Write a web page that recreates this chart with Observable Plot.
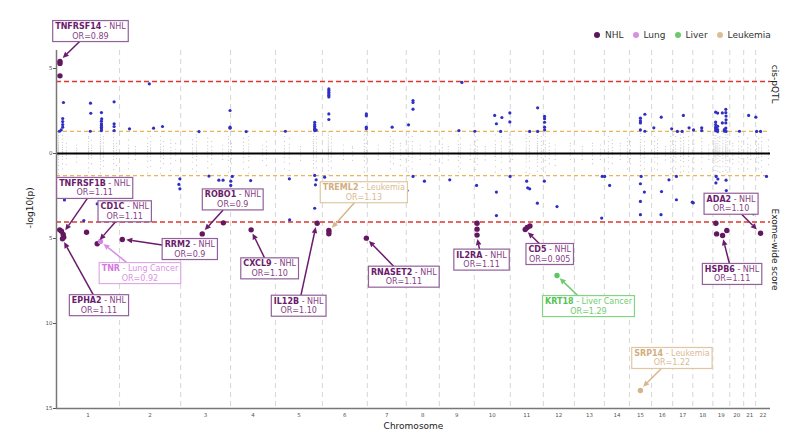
<!DOCTYPE html>
<html>
<head>
<meta charset="utf-8">
<script src="https://cdn.jsdelivr.net/npm/d3@7"></script>
<script src="https://cdn.jsdelivr.net/npm/@observablehq/plot@0.6"></script>
<style>
  html, body { margin: 0; padding: 0; background: #fff; }
  #figure { position: relative; width: 800px; height: 437px; font-family: "DejaVu Sans", Verdana, sans-serif; }
  #figure svg { display: block; }
  .legend { position: absolute; top: 30px; left: 594px; display: flex; align-items: center; font-size: 9px; color: #333; white-space: nowrap; line-height: 10px; }
  .legend .item { display: inline-flex; align-items: center; margin-right: 9px; }
  .legend i { display: inline-block; width: 6px; height: 6px; border-radius: 50%; margin-right: 5px; }
</style>
</head>
<body>
<div id="figure"></div>
<script>
// ---- Genome layout -------------------------------------------------------
const chromosomes = [1, 2, 3, 4, 5, 6, 7, 8, 9, 10, 11, 12, 13, 14, 15, 16, 17, 18, 19, 20, 21, 22];
// span covered by the tested genes on each chromosome (Mb)
const chromSpanMb = [254, 246, 201, 181, 189, 181, 157, 133, 141, 145, 133, 125, 121, 101, 89, 85, 81, 81, 68, 56, 48, 60];

// ---- Cancer types --------------------------------------------------------
const cancers = ["NHL", "Lung", "Liver", "Leukemia"];
const cancerNames = ["NHL", "Lung Cancer", "Liver Cancer", "Leukemia"];

// ---- Significance thresholds (-log10 p) ----------------------------------
const pqtlThreshold = 4.24;
const exomeThreshold = 4.03;
const nominalThreshold = 1.3;

// ---- cis-pQTL hits above nominal significance: [chromosome, position (Mb), -log10 p]
const pqtlHits = [
  [1, 12, 1.31], [1, 19, 1.39], [1, 25, 1.55], [1, 25, 1.7], [1, 25, 1.88], [1, 25, 2.06], [1, 28, 3.0],
  [1, 136, 1.31], [1, 137, 2.96], [1, 138, 2.37],
  [1, 181, 1.35], [1, 181, 1.45], [1, 181, 1.55], [1, 181, 1.65], [1, 181, 1.75], [1, 181, 1.9], [1, 182, 2.04], [1, 181, 2.41],
  [1, 232, 1.35], [1, 232, 1.59], [1, 232, 1.75], [1, 232, 3.04],
  [2, 40, 1.45], [2, 120, 4.1], [2, 137, 1.49], [2, 173, 1.59],
  [3, 74, 1.29], [3, 199, 1.49], [3, 199, 1.55], [3, 199, 2.53],
  [4, 63, 1.29],
  [5, 40, 1.31], [5, 158, 1.35], [5, 158, 1.42], [5, 158, 1.5], [5, 158, 1.6], [5, 158, 1.7], [5, 158, 1.84], [5, 164, 1.38],
  [6, 26, 3.33], [6, 26, 3.42], [6, 26, 3.5], [6, 26, 3.6], [6, 26, 3.7], [6, 26, 3.8], [6, 26, 2.33], [6, 26, 2.0],
  [6, 177, 2.33], [6, 177, 2.22], [6, 177, 1.55], [6, 177, 1.45],
  [7, 100, 1.55],
  [8, 9, 1.69], [8, 27, 3.12], [8, 27, 3.0], [8, 27, 2.61],
  [9, 79, 1.35], [9, 91, 4.18],
  [10, 2, 1.31], [10, 82, 2.24], [10, 89, 1.75], [10, 106, 1.3], [10, 111, 2.12], [10, 143, 2.39], [10, 143, 1.86],
  [11, 78, 1.3], [11, 110, 2.69], [11, 110, 1.3],
  [12, 5, 2.18], [12, 5, 2.05], [12, 5, 1.84], [12, 5, 1.55], [12, 5, 1.39],
  [15, 44, 2.08], [15, 44, 1.92], [15, 44, 1.8], [15, 44, 1.39], [15, 62, 2.31], [15, 62, 1.31],
  [16, 9, 1.51], [16, 39, 2.14], [16, 81, 1.45],
  [17, 19, 1.3], [17, 38, 1.3], [17, 43, 2.24], [17, 66, 1.51],
  [18, 3, 1.39], [18, 36, 1.51], [18, 36, 1.35],
  [19, 11, 2.43], [19, 11, 1.85], [19, 11, 1.7], [19, 11, 1.55], [19, 11, 1.45], [19, 11, 1.35],
  [19, 19, 2.38], [19, 19, 1.6], [19, 19, 1.4], [19, 19, 1.3],
  [19, 38, 2.39], [19, 38, 1.8], [19, 46, 1.4], [19, 46, 1.32],
  [19, 52, 2.6], [19, 52, 2.4], [19, 53, 2.2], [19, 53, 1.98], [19, 52, 1.8], [19, 52, 1.5], [19, 51, 1.35], [19, 53, 1.3],
  [20, 39, 1.31], [21, 20, 2.24], [22, 1, 2.14], [22, 4, 1.3], [22, 20, 1.3]
];

// ---- Exome-wide scores above nominal significance: [chromosome, position (Mb), -log10 p]
const exomeHits = [
  [1, 32, 2.73], [1, 110, 3.94], [1, 164, 2.96],
  [2, 239, 1.82], [2, 243, 2.08], [2, 243, 1.49],
  [3, 114, 1.33], [3, 154, 1.57], [3, 171, 1.57],
  [4, 7, 1.35], [4, 1, 1.63], [4, 1, 1.88], [4, 81, 1.59],
  [5, 56, 1.49], [5, 57, 3.9], [5, 158, 1.29], [5, 164, 1.55], [5, 161, 1.84], [5, 158, 3.22],
  [6, 9, 1.39],
  [8, 3, 2.18], [8, 27, 1.35], [8, 73, 1.63],
  [9, 42, 1.55],
  [10, 9, 1.88], [10, 89, 2.27], [10, 89, 3.65], [10, 144, 1.35],
  [11, 66, 1.63], [11, 70, 2.02], [11, 78, 2.08], [11, 109, 2.92],
  [12, 4, 1.63], [12, 55, 3.12],
  [13, 112, 1.35], [13, 110, 3.8], [14, 1, 1.35], [14, 21, 1.88],
  [15, 47, 1.35], [15, 44, 1.78], [15, 60, 2.27], [15, 44, 2.82], [15, 44, 3.6],
  [16, 38, 3.6], [16, 40, 2.24], [16, 70, 1.55],
  [17, 15, 1.35], [17, 15, 2.72], [17, 79, 2.86], [18, 2, 2.9],
  [19, 13, 1.35], [19, 20, 1.5], [19, 12, 1.73], [19, 53, 1.57], [19, 54, 2.18],
  [21, 39, 3.55], [22, 44, 1.35]
];

// ---- Gene–cancer associations passing the significance thresholds
// [gene, cancer, chromosome, position (Mb), -log10 p]
const pqtlSignificant = [
  ["TNFRSF14", "NHL", 1, 14, 5.41], ["TNFRSF14", "NHL", 1, 14, 5.3], ["TNFRSF14", "NHL", 1, 14, 4.57]
];
const exomeSignificant = [
  ["TNFRSF1B", "NHL", 1, 13, 4.49], ["TNFRSF1B", "NHL", 1, 20, 4.57], ["TNFRSF1B", "NHL", 1, 27, 4.76],
  ["EPHA2", "NHL", 1, 29, 4.92], ["EPHA2", "NHL", 1, 24, 5.01],
  ["", "NHL", 1, 121, 4.63],
  ["CD1C", "NHL", 1, 164, 5.31],
  ["TNR", "Lung", 1, 177, 5.18],
  ["RRM2", "NHL", 2, 11, 5.06],
  ["ROBO1", "NHL", 3, 87, 4.73],
  ["", "NHL", 3, 172, 4.08],
  ["CXCL9", "NHL", 4, 83, 4.49],
  ["IL12B", "NHL", 5, 168, 4.1],
  ["TREML2", "Leukemia", 6, 28, 4.6],
  ["", "NHL", 6, 26, 4.53], ["", "NHL", 6, 26, 4.72],
  ["RNASET2", "NHL", 6, 177, 4.98],
  ["IL2RA", "NHL", 10, 11, 4.1], ["IL2RA", "NHL", 10, 11, 4.45], ["IL2RA", "NHL", 10, 11, 4.8],
  ["CD5", "NHL", 11, 60, 4.47], ["CD5", "NHL", 11, 68, 4.35], ["CD5", "NHL", 11, 79, 4.26],
  ["KRT18", "Liver", 12, 55, 7.18],
  ["SRP14", "Leukemia", 15, 44, 13.94],
  ["HSPB6", "NHL", 19, 12, 4.1], ["HSPB6", "NHL", 19, 15, 4.73], ["HSPB6", "NHL", 19, 39, 4.82], ["HSPB6", "NHL", 19, 56, 4.53],
  ["ADA2", "NHL", 22, 20, 4.69]
];

// ---- Odds ratios of the annotated genes
const oddsRatios = [
  ["TNFRSF14", "0.89"], ["TNFRSF1B", "1.11"], ["CD1C", "1.11"], ["RRM2", "0.9"], ["TNR", "0.92"],
  ["EPHA2", "1.11"], ["ROBO1", "0.9"], ["CXCL9", "1.10"], ["IL12B", "1.10"], ["TREML2", "1.13"],
  ["RNASET2", "1.11"], ["IL2RA", "1.11"], ["CD5", "0.905"], ["KRT18", "1.29"], ["ADA2", "1.10"],
  ["HSPB6", "1.11"], ["SRP14", "1.22"]
];

// ---- Sub-threshold genes: chromosome position (Mb) | cis-pQTL -log10 p values | exome-wide -log10 p values
const backgroundLoci = `
1 8 | .03 .09 .15 .22 .3 .38 .47 .56 .66 .78 .9 1.05 1.22 | .04 .12 .22 .35 .5 .7 .95 1.18
1 24 | .05 .13 .24 .36 .5 .66 .85 1.08 | .06 .18 .33 .6 .9
1 40 | .08 .2 .38 .6 | .1 .3 .65
1 81 | .06 .17 .3 .5 | .08 .22 .5
1 129 | .04 .11 .2 .3 .42 .56 .72 .9 1.0 | .05 .15 .3 .55 .85 1.1
1 141 | .07 .18 .32 .5 .78 | .1 .25 .6
1 177 | .02 .07 .13 .19 .26 .33 .41 .5 .6 .7 .82 .95 1.1 1.27 | .04 .1 .2 .32 .47 .66 .9 1.15
1 189 | .05 .15 .28 .44 .62 .85 1.0 | .07 .2 .42 .75
1 230 | .03 .1 .19 .3 .43 .58 .75 .95 1.17 | .05 .16 .34 .6 .95
1 242 | .06 .2 .42 .6 | .08 .3 .7
2 36 | .05 .15 .3 .5 .8 | .07 .25 .55 .9
2 64 | .08 .22 .4 | .1 .35
2 113 | .04 .12 .25 .4 .6 .9 | .06 .2 .45 .8 1.15
2 125 | .03 .1 .2 .33 .5 .7 1.0 | .05 .18 .4 .75
2 165 | .04 .12 .24 .38 .55 .78 1.0 | .06 .2 .45 .85 1.2
2 177 | .06 .2 .4 .7 | .1 .3 .6
2 206 | .05 .17 .35 .6 .8 | .08 .28 .6 1.0
2 226 | .07 .25 .6 | .1 .4
3 48 | .05 .16 .32 .55 .8 | .07 .24 .5 .9
3 64 | .03 .1 .2 .33 .5 .72 .95 1.1 | .05 .17 .38 .7 1.05
3 109 | .04 .14 .28 .46 .68 .9 | .06 .2 .46 .85
3 125 | .06 .2 .4 .7 | .1 .3 .65
3 169 | .08 .25 .5 | .1 .35
3 193 | .04 .12 .25 .42 .62 .85 1.0 | .05 .18 .4 .78 1.1
4 4 | .06 .2 .4 .6 | .08 .3 .6
4 52 | .04 .13 .27 .45 .65 .9 | .06 .22 .5 .9
4 73 | .03 .1 .22 .38 .56 .78 1.0 | .05 .18 .42 .8 1.15
4 129 | .08 .25 .5 | .1 .4
4 145 | .05 .18 .4 .7 | .08 .3 .7
5 36 | .04 .13 .27 .45 .7 1.0 | .06 .22 .5 .9
5 56 | .05 .16 .33 .55 .9 | .07 .25 .6 1.0
5 101 | .1 .25 .4 | .12 .4
5 153 | .02 .07 .13 .2 .28 .37 .47 .58 .7 .84 1.0 1.2 | .04 .12 .24 .4 .6 .85 1.15
5 165 | .04 .13 .26 .42 .62 .85 1.0 | .06 .2 .45 .85
6 24 | .02 .06 .11 .17 .24 .32 .41 .51 .62 .75 .9 1.08 1.27 | .03 .1 .2 .33 .5 .72 1.0 1.25
6 36 | .04 .13 .26 .42 .62 .85 1.0 | .06 .2 .45 .85
6 85 | .07 .22 .5 | .1 .35
6 121 | .1 .3 .4 | .12 .4
6 169 | .04 .12 .24 .4 .58 .8 1.1 | .05 .18 .42 .8 1.1
6 177 | .05 .16 .35 .6 .9 | .07 .25 .6
7 44 | .08 .25 .5 | .1 .35
7 93 | .04 .13 .27 .45 .68 1.0 | .06 .2 .48 .9
7 105 | .05 .17 .35 .58 .8 | .07 .25 .6
7 133 | .07 .22 .45 .6 | .1 .35 .7
8 8 | .03 .1 .2 .33 .5 .7 .95 1.2 | .05 .17 .4 .75 1.1
8 24 | .04 .13 .27 .45 .7 1.0 | .06 .22 .5 .9
8 56 | .08 .25 .5 | .1 .35
8 97 | .06 .2 .42 .7 | .08 .3 .65
8 117 | .1 .28 .4 | .12 .4
9 12 | .05 .16 .33 .55 .9 | .07 .25 .55
9 36 | .1 .25 .4 | .12 .38
9 77 | .03 .1 .21 .35 .52 .75 1.1 | .05 .17 .4 .78 1.1
9 85 | .05 .16 .32 .55 .9 | .07 .24 .55 .9
9 125 | .08 .25 .5 | .1 .35
10 4 | .04 .13 .27 .45 .7 1.0 | .06 .22 .5 .95
10 12 | .06 .2 .4 .8 | .08 .3 .65
10 44 | .1 .25 .4 | .12 .38
10 85 | .03 .1 .21 .35 .52 .75 1.1 | .05 .17 .4 .78 1.1
10 109 | .04 .13 .27 .45 .7 1.0 | .06 .22 .5 .95
10 141 | .04 .12 .25 .42 .65 .9 1.1 | .06 .2 .45 .85
11 8 | .08 .25 .5 | .1 .35
11 64 | .03 .1 .2 .33 .5 .7 .9 1.1 | .04 .14 .3 .5 .78 1.1
11 77 | .04 .13 .27 .45 .7 1.0 | .06 .2 .45 .85 1.2
11 109 | .02 .06 .12 .19 .27 .36 .46 .58 .72 .88 1.05 1.25 | .03 .1 .2 .34 .52 .75 1.05
11 125 | .04 .14 .28 .48 .72 1.0 | .06 .22 .5 .9
12 8 | .03 .1 .21 .35 .52 .75 1.0 1.2 | .05 .17 .4 .78 1.1
12 24 | .06 .2 .4 .6 | .08 .3 .6
12 48 | .08 .25 .5 | .1 .35 .7
12 109 | .07 .22 .45 .6 | .1 .35
13 32 | .1 .25 .4 | .12 .35
13 73 | .07 .22 .45 .6 | .1 .35 .6
13 105 | .08 .25 .5 | .1 .35
14 16 | .04 .13 .27 .45 .7 1.0 | .06 .22 .5 .9
14 32 | .05 .17 .35 .58 .8 | .07 .25 .6
14 64 | .07 .22 .45 .6 | .1 .35
14 93 | .04 .14 .28 .48 .7 .9 | .06 .22 .5 .9
15 4 | .06 .2 .45 .7 | .08 .3 .6
15 44 | .03 .09 .17 .26 .37 .5 .65 .82 1.0 1.2 | .04 .13 .27 .45 .7 1.0
15 60 | .04 .13 .27 .45 .7 1.0 | .06 .22 .5 .9
16 12 | .04 .13 .27 .45 .7 1.0 | .06 .22 .5 .9
16 24 | .05 .17 .35 .58 .8 | .07 .25 .6 .95
16 56 | .1 .25 .4 | .12 .38
16 77 | .04 .13 .27 .45 .7 1.0 | .06 .22 .5 .9 1.2
17 4 | .03 .1 .21 .35 .52 .75 1.1 | .05 .17 .4 .78 1.1
17 12 | .04 .13 .27 .45 .7 1.0 | .06 .22 .5 .9
17 32 | .03 .1 .2 .33 .5 .7 .9 1.1 | .05 .17 .4 .78 1.1
17 44 | .02 .07 .14 .22 .32 .44 .58 .75 .95 1.2 | .04 .13 .28 .48 .75 1.05
17 64 | .03 .1 .21 .35 .52 .75 1.0 | .05 .17 .4 .78 1.1
18 4 | .05 .16 .33 .55 .8 | .07 .24 .55 .9
18 36 | .04 .13 .27 .45 .7 .9 | .06 .22 .5 .9
18 64 | .08 .25 .5 | .1 .35
19 4 | .02 .06 .11 .17 .24 .32 .41 .51 .62 .75 .9 1.08 1.27 | .03 .09 .17 .27 .4 .56 .75 .98 1.22
19 12 | .02 .06 .12 .19 .27 .36 .46 .58 .72 .88 1.05 1.25 | .03 .1 .2 .33 .5 .72 1.0 1.25
19 20 | .02 .07 .14 .22 .32 .44 .58 .75 .95 1.18 | .04 .13 .28 .48 .75 1.05
19 28 | .03 .1 .2 .33 .5 .7 .9 1.0 | .05 .17 .4 .78 1.1
19 40 | .02 .07 .14 .22 .32 .44 .58 .75 .95 1.2 | .04 .13 .28 .48 .75 1.05
19 52 | .02 .05 .09 .14 .2 .27 .35 .44 .54 .65 .78 .93 1.1 1.28 | .03 .09 .17 .27 .4 .56 .75 .98 1.22
19 60 | .03 .1 .2 .33 .5 .7 .9 1.1 | .05 .17 .4 .78 1.1
20 12 | .07 .22 .45 .6 | .1 .35 .6
20 36 | .04 .13 .27 .45 .7 1.0 | .06 .22 .5 .9
20 48 | .06 .2 .42 .7 | .08 .3 .65
21 16 | .05 .16 .33 .55 .9 | .07 .24 .55 .9
21 28 | .08 .25 .5 | .1 .35
22 4 | .04 .13 .27 .45 .7 1.0 | .06 .22 .5 .9
22 12 | .05 .16 .33 .55 .9 | .07 .24 .55 .9
22 24 | .03 .1 .2 .33 .5 .7 .95 1.2 | .05 .17 .4 .78 1.1
22 52 | .06 .2 .42 .8 | .08 .3 .65
`;

// ---- Styling and label layout ---------------------------------------------
const FONT = '"DejaVu Sans", Verdana, sans-serif';
const pointColors = ["#62175f", "#d184df", "#5ec65e", "#d6b487"];
const legendColors = ["#5a165a", "#d890e2", "#6cc86c", "#dbbd96"];
const labelStyle = {
  NHL:      {gene: "#6b1b6b", text: "#854185", box: "#92609a", arrow: "#6b1b6b"},
  Lung:     {gene: "#d27ade", text: "#da93e4", box: "#dfa9e8", arrow: "#d98ce3"},
  Liver:    {gene: "#55c355", text: "#6fcd6f", box: "#82d582", arrow: "#6ccb6c"},
  Leukemia: {gene: "#d2ae80", text: "#dabb93", box: "#dfc7a5", arrow: "#d6b68a"}
};
// offset (px) of each label box centre from the gene's lead point
const labelOffset = {
  TNFRSF14: [31, -30], TNFRSF1B: [32, -46], CD1C: [28, -32], RRM2: [68, 10], TNR: [40, 32],
  EPHA2: [37, 67], ROBO1: [31, -34], CXCL9: [19, 39], IL12B: [-18, 83], TREML2: [35, -39],
  RNASET2: [38, 39], IL2RA: [5, 25], CD5: [25, 25], KRT18: [32, 31], ADA2: [-29, -29],
  HSPB6: [10, 39], SRP14: [32, -32]
};
const LABEL_SIZE = 8;

// ---- Derived tables --------------------------------------------------------
const chromStart = new Map(chromosomes.map((c, i) => [c, d3.sum(chromSpanMb.slice(0, i))]));
const totalMb = d3.sum(chromSpanMb);
const gpos = (chr, pos) => chromStart.get(chr) + pos;
const chromCenters = chromosomes.map((c, i) => chromStart.get(c) + chromSpanMb[i] / 2);
const centerLabel = new Map(chromCenters.map((m, i) => [m, String(chromosomes[i])]));
const boundaries = chromosomes.slice(1).map(c => chromStart.get(c));

// cis-pQTL values are drawn upward (negative), exome-wide scores downward (positive)
const grey = [];
for (const line of backgroundLoci.trim().split("\n")) {
  const [head, up, down] = line.split("|");
  const [chr, pos] = head.trim().split(/\s+/).map(Number);
  for (const s of up.trim().split(/\s+/)) grey.push({g: gpos(chr, pos), y: -Number(s)});
  for (const s of down.trim().split(/\s+/)) grey.push({g: gpos(chr, pos), y: Number(s)});
}
const blue = [
  ...pqtlHits.map(([c, p, s]) => ({g: gpos(c, p), y: -s})),
  ...exomeHits.map(([c, p, s]) => ({g: gpos(c, p), y: s}))
];
const hits = [
  ...pqtlSignificant.map(([gene, cancer, c, p, s]) => ({gene, cancer, g: gpos(c, p), y: -s, score: s})),
  ...exomeSignificant.map(([gene, cancer, c, p, s]) => ({gene, cancer, g: gpos(c, p), y: s, score: s}))
];
const annotations = oddsRatios.map(([gene, or]) => ({
  gene, or, lead: d3.greatest(hits.filter(d => d.gene === gene), d => d.score)
}));

// ---- Annotation boxes with arrows, placed through the plot's scales --------
function annotationLayer(index, scales) {
  const ctx = document.createElement("canvas").getContext("2d");
  const textWidth = (s, weight) => { ctx.font = `${weight} ${LABEL_SIZE}px "DejaVu Sans"`; return ctx.measureText(s).width; };
  const root = d3.create("svg:g").attr("font-family", FONT).attr("font-size", LABEL_SIZE);
  for (const a of annotations) {
    const cancer = a.lead.cancer;
    const st = labelStyle[cancer];
    const name = cancerNames[cancers.indexOf(cancer)];
    const tx = scales.x(a.lead.g), ty = scales.y(a.lead.y);
    const [ox, oy] = labelOffset[a.gene];
    const cx = tx + ox, cy = ty + oy;
    const w1 = textWidth(a.gene, "bold") + textWidth(` - ${name}`, "normal");
    const w2 = textWidth(`OR=${a.or}`, "normal");
    const bw = Math.max(w1, w2) + 5, bh = 21;

    const dx = tx - cx, dy = ty - cy, len = Math.hypot(dx, dy);
    const ux = dx / len, uy = dy / len;
    const tEdge = Math.min(ux ? (bw / 2) / Math.abs(ux) : Infinity, uy ? (bh / 2) / Math.abs(uy) : Infinity);
    const sx = cx + ux * tEdge, sy = cy + uy * tEdge;
    const ex = tx - ux * 4.5, ey = ty - uy * 4.5;
    const hl = 6, hw = 2.8;
    const bx = ex - ux * hl, by = ey - uy * hl;
    root.append("line")
      .attr("x1", sx).attr("y1", sy).attr("x2", bx).attr("y2", by)
      .attr("stroke", st.arrow).attr("stroke-width", 1.5);
    root.append("path")
      .attr("d", `M${ex},${ey}L${bx - uy * hw},${by + ux * hw}L${bx + uy * hw},${by - ux * hw}Z`)
      .attr("fill", st.arrow);

    root.append("rect")
      .attr("x", cx - bw / 2).attr("y", cy - bh / 2).attr("width", bw).attr("height", bh)
      .attr("fill", "#fff").attr("stroke", st.box).attr("stroke-width", 1.2);
    const t1 = root.append("text")
      .attr("x", cx).attr("y", cy - 4.8).attr("dy", "0.35em")
      .attr("text-anchor", "middle").style("white-space", "pre");
    t1.append("tspan").attr("font-weight", "bold").attr("fill", st.gene).text(a.gene);
    t1.append("tspan").attr("fill", st.text).text(` - ${name}`);
    root.append("text")
      .attr("x", cx).attr("y", cy + 4.7).attr("dy", "0.35em")
      .attr("text-anchor", "middle").attr("fill", st.text)
      .text(`OR=${a.or}`);
  }
  return root.node();
}

const chart = Plot.plot({
  width: 800,
  height: 437,
  marginLeft: 56,
  marginRight: 30,
  marginTop: 50,
  marginBottom: 29,
  style: {fontFamily: FONT, fontSize: "5.5px", color: "#555", background: "#fff", overflow: "visible"},
  x: {
    domain: [0, totalMb],
    ticks: chromCenters,
    tickFormat: d => centerLabel.get(d),
    tickSize: 0,
    tickPadding: 5,
    label: null
  },
  y: {
    domain: [-6.06, 15],
    reverse: true,
    ticks: [-5, 0, 5, 10, 15],
    tickFormat: d => String(Math.abs(d)),
    tickSize: 3,
    tickPadding: 1,
    label: null
  },
  color: {domain: cancers, range: pointColors},
  marks: [
    Plot.ruleX(boundaries, {stroke: "#cbcbcb", strokeWidth: 0.8, strokeDasharray: "5,4"}),
    Plot.dot(grey, {x: "g", y: "y", r: 0.6, fill: "#a3a3a3", fillOpacity: 0.6}),
    Plot.ruleY([-nominalThreshold, nominalThreshold], {stroke: "#eab555", strokeWidth: 1.1, strokeDasharray: "4,3"}),
    Plot.ruleY([-pqtlThreshold, exomeThreshold], {stroke: "#e0362e", strokeWidth: 1.5, strokeDasharray: "5,3"}),
    Plot.ruleY([0], {stroke: "#000", strokeWidth: 2}),
    Plot.ruleX([0], {stroke: "#777", strokeWidth: 1.5}),
    Plot.ruleY([15], {stroke: "#777", strokeWidth: 1.5}),
    Plot.dot(blue, {x: "g", y: "y", r: 1.6, fill: "#2f2fc4"}),
    Plot.dot(hits, {x: "g", y: "y", r: 2.7, fill: "cancer"}),
    Plot.text(["cis-pQTL"], {frameAnchor: "right", y: -2.94, dx: 4, rotate: 90, fontSize: 9, fill: "#222"}),
    Plot.text(["Exome-wide score"], {frameAnchor: "right", y: 8.06, dx: 4, rotate: 90, fontSize: 9, fill: "#222"}),
    Plot.text(["-log10(p)"], {frameAnchor: "left", y: 4.4, dx: -26, rotate: -90, fontSize: 9, fill: "#222"}),
    Plot.text(["Chromosome"], {frameAnchor: "bottom", dy: 20, fontSize: 9, fill: "#222"}),
    annotationLayer
  ]
});

const fig = document.getElementById("figure");
fig.append(chart);

// legend
const legend = d3.select(fig).append("div").attr("class", "legend");
cancers.forEach((c, i) => {
  const item = legend.append("span").attr("class", "item");
  item.append("i").style("background", legendColors[i]);
  item.append("span").text(c);
});
</script>
</body>
</html>
